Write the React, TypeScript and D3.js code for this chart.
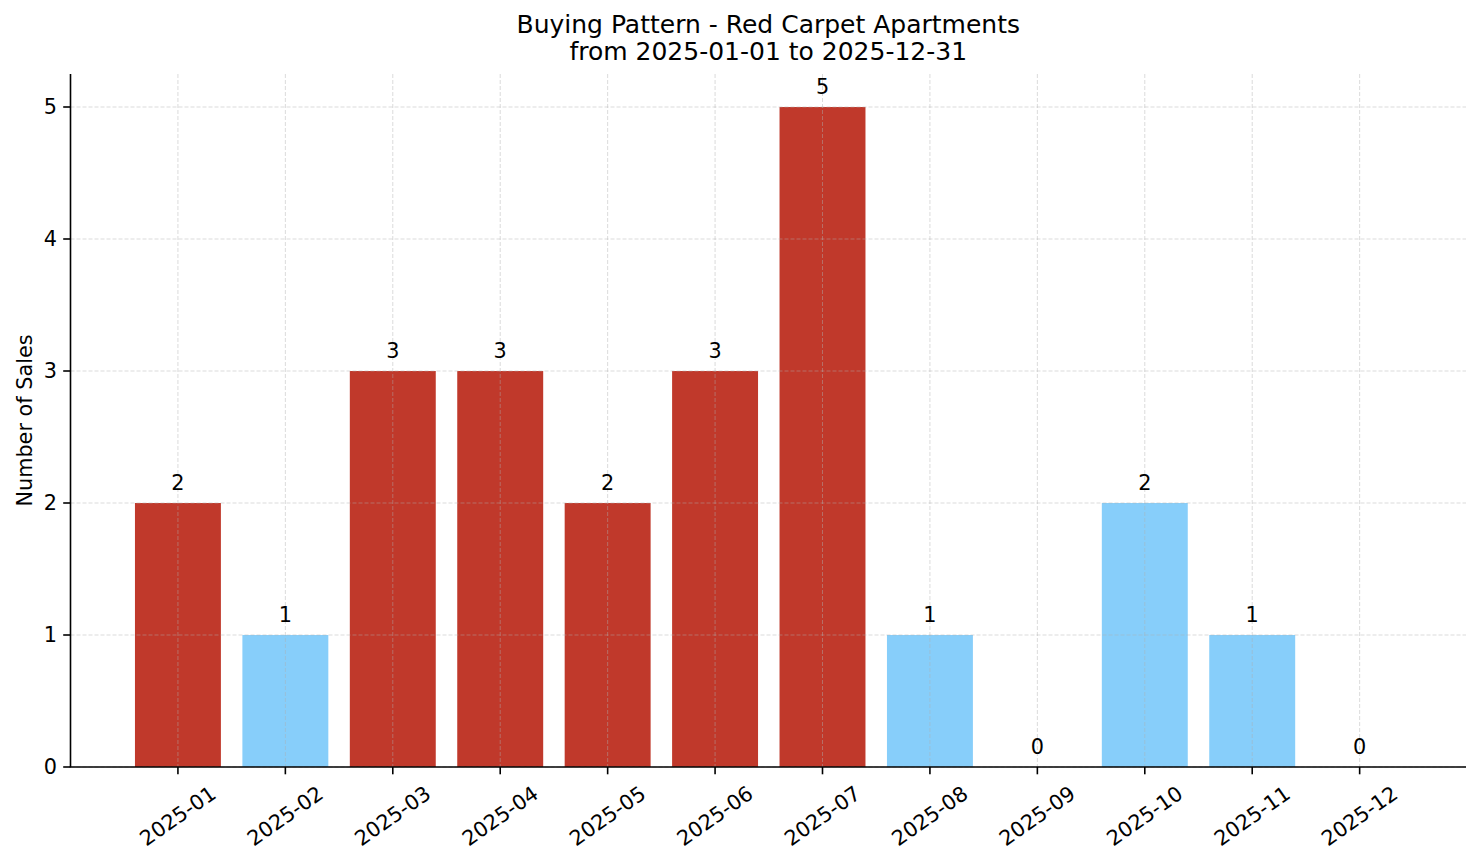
import * as d3 from 'd3';

const months = ['2025-01', '2025-02', '2025-03', '2025-04', '2025-05', '2025-06', '2025-07', '2025-08', '2025-09', '2025-10', '2025-11', '2025-12'];
const sales = [2, 1, 3, 3, 2, 3, 5, 1, 0, 2, 1, 0];
// which months are drawn in the highlight (red) colour
const highlighted = [true, false, true, true, true, true, true, false, false, false, false, false];
const yTicks = [0, 1, 2, 3, 4, 5];
const titleLines = ['Buying Pattern - Red Carpet Apartments', 'from 2025-01-01 to 2025-12-31'];

const W = 1481;
const H = 863;
const left = 70.5;
const right = 1466;
const top = 74;
const bottom = 767;
const font = 'DejaVu Sans, sans-serif';

export default function App() {
  const x = d3.scaleLinear().domain([-1, 11.99]).range([left, right]);
  const y = d3.scaleLinear().domain([0, 5.25]).range([bottom, top]);
  const bw = (x(1) - x(0)) * 0.8;

  return (
    <svg width={W} height={H} style={{ position: 'absolute', left: 0, top: 0, background: '#fff' }} fontFamily={font}>
      {/* bars */}
      {sales.map((v, i) => (
        <rect key={months[i]} x={x(i) - bw / 2} y={y(v)} width={bw} height={y(0) - y(v)}
          fill={highlighted[i] ? '#c0392b' : '#87cefa'} />
      ))}

      {/* grid on top of bars */}
      <g stroke="#b0b0b0" strokeOpacity={0.45} strokeWidth={1} strokeDasharray="4,2">
        {yTicks.map(t => (
          <line key={'gy' + t} x1={left} x2={right} y1={y(t)} y2={y(t)} />
        ))}
        {months.map((m, i) => (
          <line key={'gx' + m} x1={x(i)} x2={x(i)} y1={top} y2={bottom} />
        ))}
      </g>

      {/* value labels */}
      {sales.map((v, i) => (
        <text key={'l' + months[i]} x={x(i)} y={y(v) - 13} textAnchor="middle" fontSize={20.8} fill="#000">{v}</text>
      ))}

      {/* spines */}
      <line x1={left} x2={left} y1={top} y2={bottom} stroke="#000" strokeWidth={1.6} />
      <line x1={left - 0.8} x2={right} y1={bottom} y2={bottom} stroke="#000" strokeWidth={1.6} />

      {/* y axis */}
      {yTicks.map(t => (
        <g key={'yt' + t}>
          <line x1={left - 7.3} x2={left} y1={y(t)} y2={y(t)} stroke="#000" strokeWidth={1.6} />
          <text x={57} y={y(t)} textAnchor="end" dominantBaseline="central" fontSize={20.8}>{t}</text>
        </g>
      ))}

      {/* x axis */}
      {months.map((m, i) => (
        <g key={'xt' + m}>
          <line x1={x(i)} x2={x(i)} y1={bottom} y2={bottom + 7.3} stroke="#000" strokeWidth={1.6} />
          <text x={x(i)} y={816} textAnchor="middle" dominantBaseline="central" fontSize={20.8}
            transform={`rotate(-35, ${x(i)}, 816)`}>{m}</text>
        </g>
      ))}

      <text x={32} y={(top + bottom) / 2} textAnchor="middle" fontSize={20.8}
        transform={`rotate(-90, 32, ${(top + bottom) / 2})`}>Number of Sales</text>

      {titleLines.map((t, i) => (
        <text key={t} x={(left + right) / 2} y={33 + i * 27} textAnchor="middle" fontSize={25}>{t}</text>
      ))}
    </svg>
  );
}
